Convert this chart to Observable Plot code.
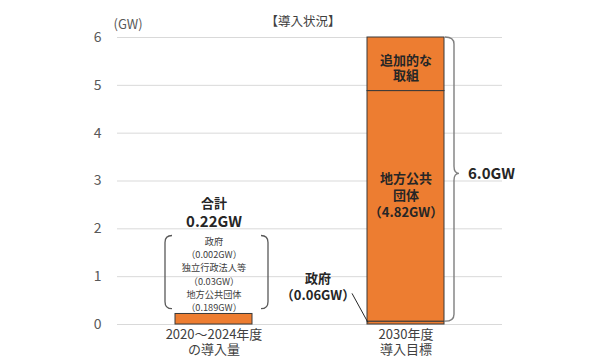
<!DOCTYPE html>
<html><head><meta charset="utf-8">
<script src="https://cdn.jsdelivr.net/npm/d3@7"></script>
<script src="https://cdn.jsdelivr.net/npm/@observablehq/plot@0.6"></script>
<style>body{margin:0;background:#fff;}</style>
</head><body><div id="chart"></div>
<script>
// ---- data ----
const categories = ["2020～2024年度\nの導入量", "2030年度\n導入目標"];
const segCategory = [0, 1, 1, 1];
const segName = ["合計", "政府", "地方公共団体", "追加的な取組"];
const segValue = [0.22, 0.06, 4.82, 1.12];
const yTicks = [0, 1, 2, 3, 4, 5, 6];
const breakdownLines = ["政府", "（0.002GW）", "独立行政法人等", "（0.03GW）", "地方公共団体", "（0.189GW）"];
const totalLabel = ["合計", "0.22GW"];
const targetTotalLabel = "6.0GW";
const govLabel = "政府\n（0.06GW）";
const localLabel = "地方公共\n団体\n（4.82GW）";
const extraLabel = "追加的な\n取組";

// ---- annotation layout (in data units) ----
const breakdownY = [1.72, 1.445, 1.17, 0.895, 0.62, 0.345];
const braceTip = 3.15;
const FONT = "'Noto Sans CJK JP', 'Noto Sans', sans-serif";
const ORANGE = "#ED7D31";
const TXT = "#262626";

const target = categories[1], actual = categories[0];
const targetTotal = segValue.filter((v, i) => segCategory[i] === 1).reduce((a, b) => a + b, 0);

function annotations(index, scales) {
  const sx = scales.x, sy = scales.y;
  const bw = typeof sx.bandwidth === "function" ? sx.bandwidth() : sx.bandwidth;
  const g = d3.create("svg:g").attr("fill", "none");
  // right curly brace around 2030 bar
  const x0 = sx(target) + bw + 1, xv = x0 + 9, r = 7;
  const yT = sy(targetTotal), yB = sy(segValue[1]), ym = sy(braceTip);
  g.append("path")
    .attr("stroke", "#7f7f7f").attr("stroke-width", 1.4)
    .attr("d", `M${x0},${yT} Q${xv},${yT} ${xv},${yT + r} L${xv},${ym - r} Q${xv},${ym} ${xv + 5},${ym} Q${xv},${ym} ${xv},${ym + r} L${xv},${yB - r} Q${xv},${yB} ${x0},${yB}`);
  // parentheses around breakdown
  const xl = sx(actual) - 10, xr = sx(actual) + bw + 16;
  const pT = sy(1.85), pB = sy(0.32), c = 7;
  g.append("path")
    .attr("stroke", "#595959").attr("stroke-width", 1.3)
    .attr("d", `M${xl + c},${pT} Q${xl},${pT} ${xl},${pT + c} L${xl},${pB - c} Q${xl},${pB} ${xl + c},${pB}` +
      ` M${xr - c},${pT} Q${xr},${pT} ${xr},${pT + c} L${xr},${pB - c} Q${xr},${pB} ${xr - c},${pB}`);
  // leader line for 政府 (0.06GW)
  g.append("path")
    .attr("stroke", "#262626").attr("stroke-width", 1)
    .attr("d", `M${sx(target) - 15},${sy(0.64)} L${sx(target) + 1},${sy(0.03)}`);
  return g.node();
}

const chart = Plot.plot({
  width: 590,
  height: 364,
  marginLeft: 117,
  marginRight: 88,
  marginTop: 37,
  marginBottom: 40,
  style: {fontFamily: FONT, color: "#595959", background: "#fff"},
  x: {domain: categories, paddingInner: 0.6, paddingOuter: 0.3, axis: null},
  y: {domain: [0, 6], axis: null},
  marks: [
    Plot.ruleY(yTicks, {stroke: "#d9d9d9", strokeWidth: 1}),
    Plot.axisY(yTicks, {tickSize: 0, tickPadding: 16, fontSize: 14, color: "#595959", label: null}),
    Plot.axisX({tickSize: 0, tickPadding: 3, fontSize: 13, color: "#404040", lineHeight: 1.2, label: null}),
    Plot.barY(segValue.map((v, i) => i), {
      x: i => categories[segCategory[i]],
      y: i => segValue[i],
      fill: ORANGE, stroke: "#3a3a3a", strokeWidth: 1
    }),
    annotations,
    // title & unit
    Plot.text(["【導入状況】"], {frameAnchor: "top", dx: -7, dy: -20, fontSize: 12.5, fill: "#404040", text: d => d}),
    Plot.text(["(GW)"], {frameAnchor: "top-left", textAnchor: "start", dx: -4, dy: -18, fontSize: 13, fill: "#595959", text: d => d}),
    // total label for actual
    Plot.text([totalLabel[0]], {x: () => actual, y: () => 2.52, fontSize: 13, fontWeight: "bold", fill: TXT, text: d => d}),
    Plot.text([totalLabel[1]], {x: () => actual, y: () => 2.13, fontSize: 15, fontWeight: "bold", fill: TXT, text: d => d}),
    Plot.text(breakdownLines, {x: () => actual, y: (d, i) => breakdownY[i], fontSize: 9.2, fill: "#404040", text: d => d}),
    // labels for target
    Plot.text([extraLabel], {x: () => target, y: () => 5.37, fontSize: 13, fontWeight: "bold", fill: TXT, lineHeight: 1.2, text: d => d}),
    Plot.text([localLabel], {x: () => target, y: () => 2.72, fontSize: 13, fontWeight: "bold", fill: TXT, lineHeight: 1.3, text: d => d}),
    Plot.text([govLabel], {x: () => target, y: () => 0.80, dx: -88, fontSize: 13, fontWeight: "bold", fill: TXT, lineHeight: 1.25, text: d => d}),
    Plot.text([targetTotalLabel], {x: () => target, y: () => braceTip, dx: 62, textAnchor: "start", fontSize: 15, fontWeight: "bold", fill: TXT, text: d => d})
  ]
});
document.getElementById("chart").append(chart);
</script>
</body></html>
